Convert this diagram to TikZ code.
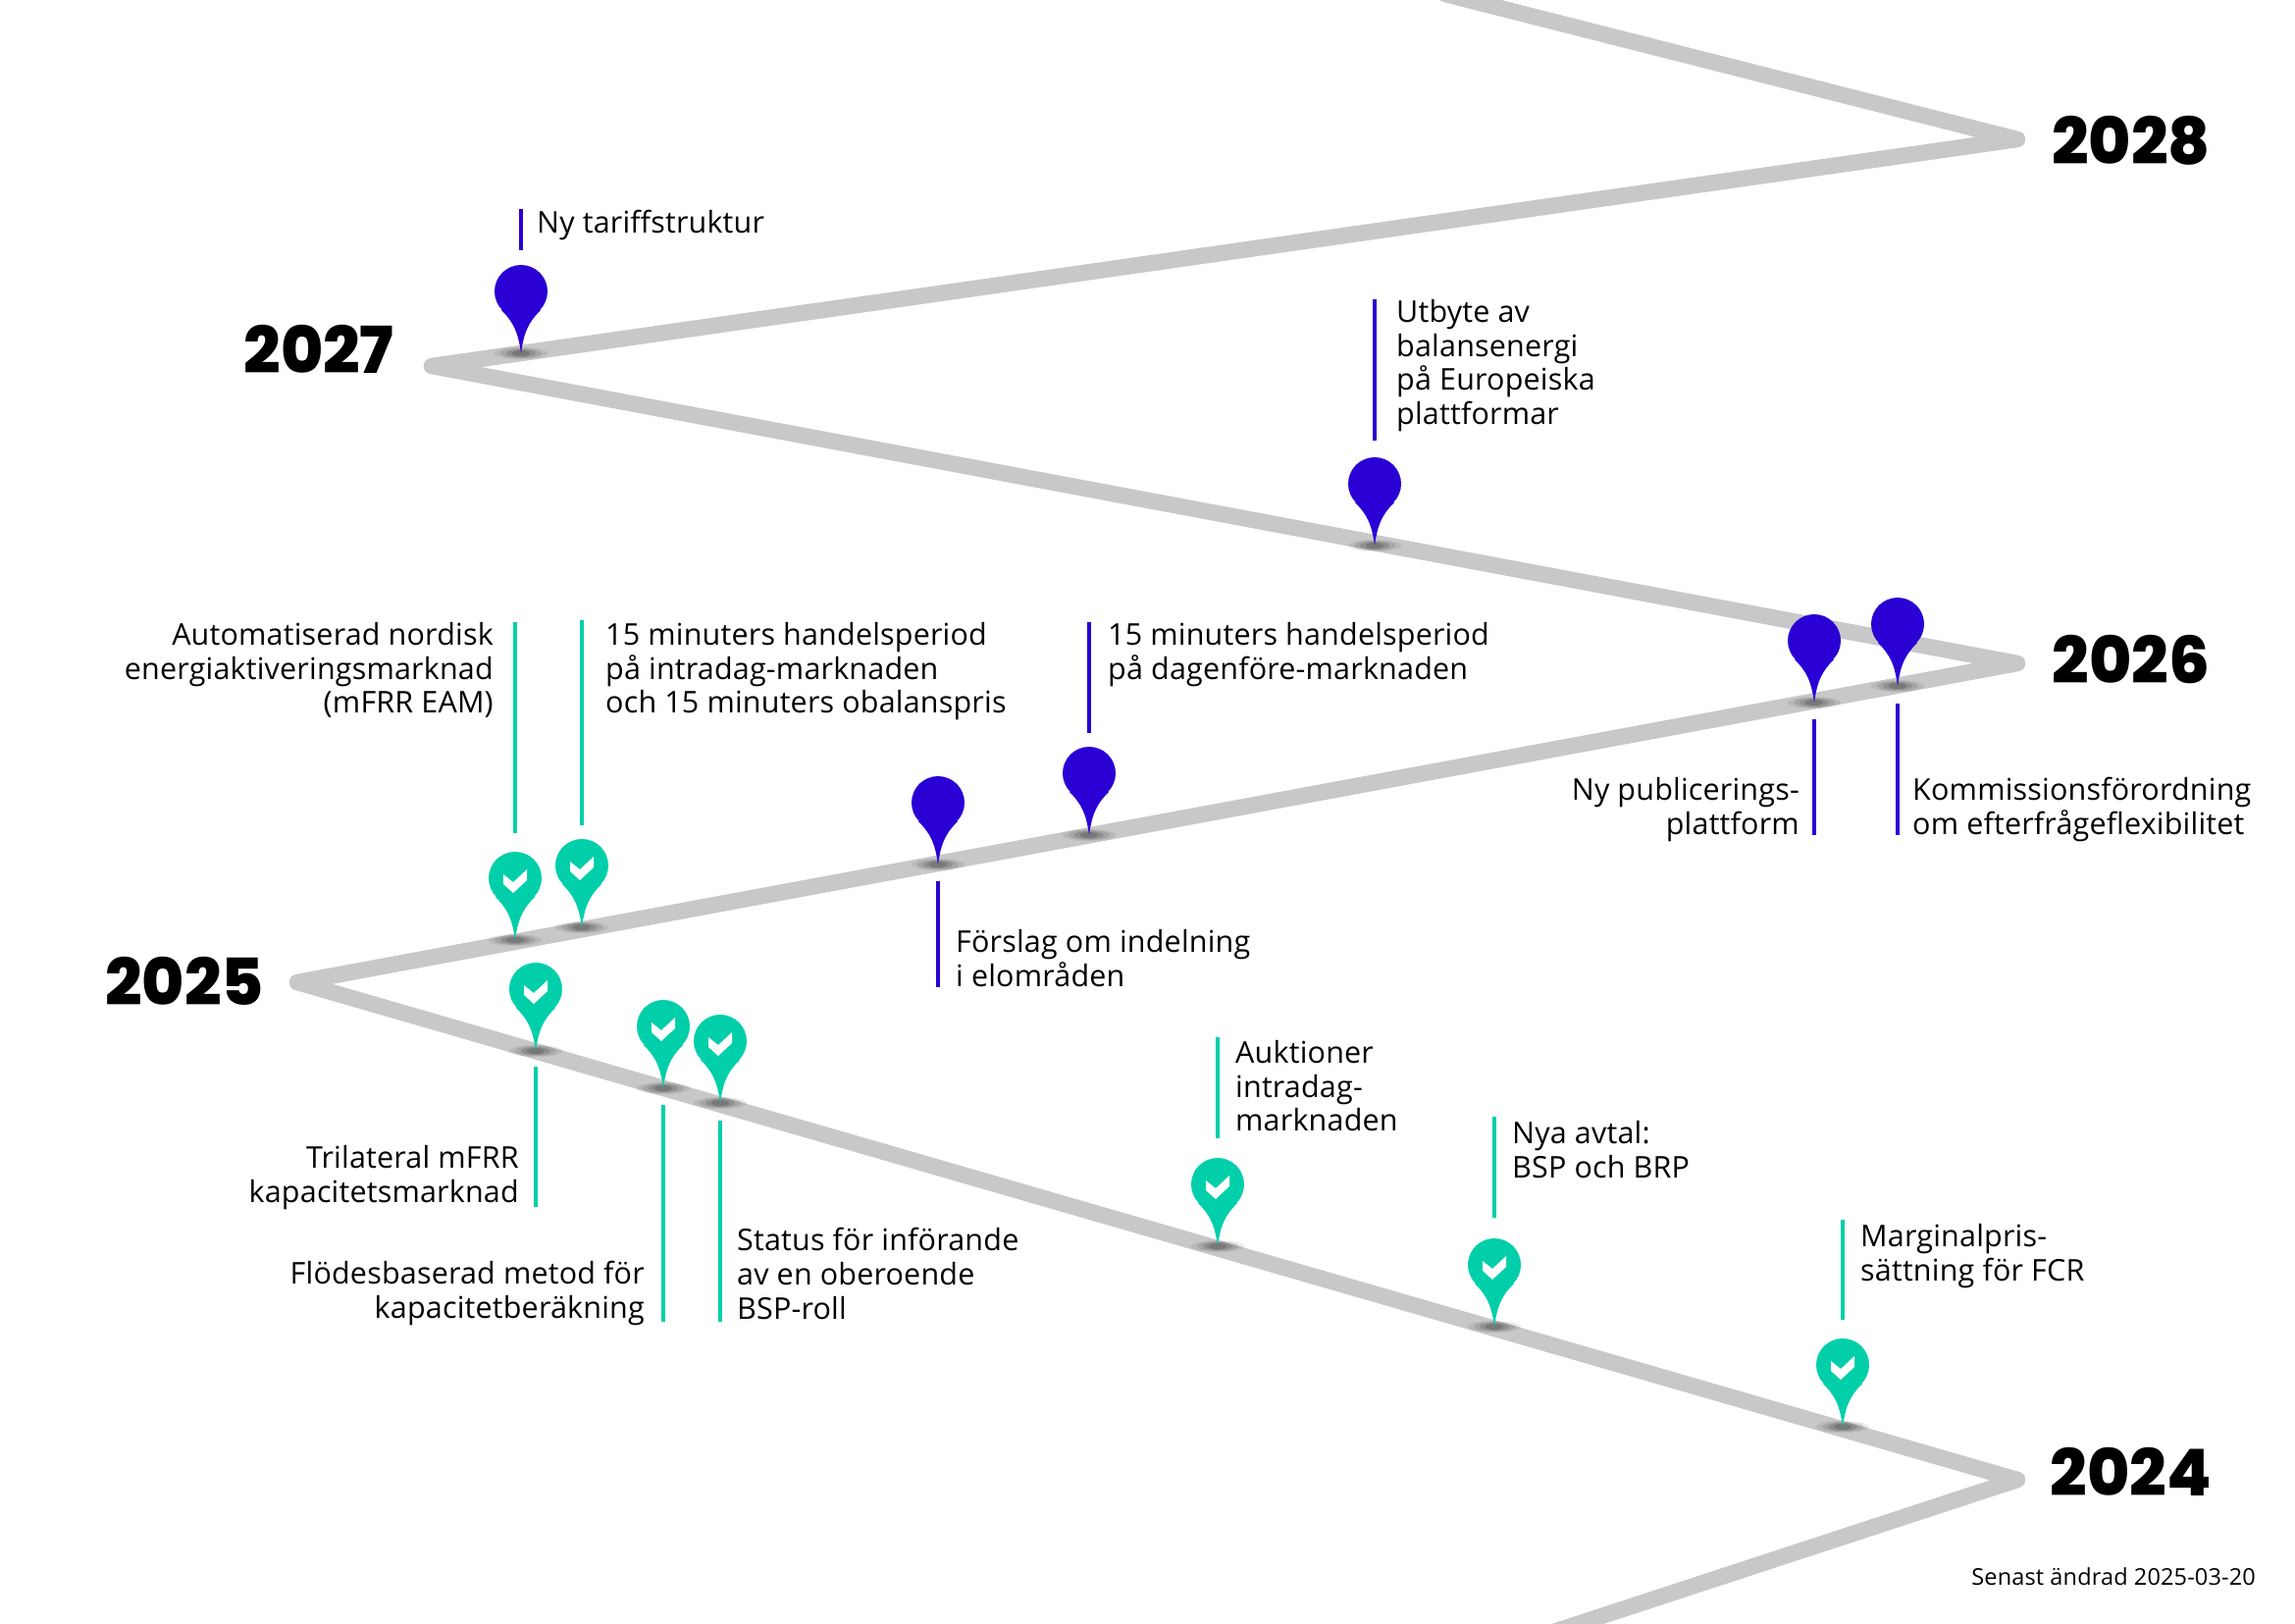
\documentclass[tikz,border=0pt]{standalone}
\usepackage{fontspec}
\setmainfont{Open Sans}[LetterSpace=0.6]
\newfontfamily\yearfont{Poppins ExtraBold}
\definecolor{track}{HTML}{C8C8C8}
\definecolor{bluepin}{HTML}{2A00D5}
\definecolor{tealpin}{HTML}{00CFAA}
\tikzset{x=1pt,y=-1pt,
 trackline/.style={draw=track,line width=16.5pt,line join=round,line cap=round},
 leader/.style={line width=3.7pt},
 yearlabel/.style={font=\yearfont\fontsize{66}{66}\selectfont,inner sep=0pt,text=black},
 lbl/.style={font=\fontsize{30.5}{34.8}\selectfont,inner sep=0pt,align=left,anchor=north west,yshift=-6pt},
 lblr/.style={font=\fontsize{30.5}{34.8}\selectfont,inner sep=0pt,align=right,anchor=north east,yshift=-6pt},
 stamp/.style={font=\fontsize{23.5}{24}\selectfont,inner sep=0pt,anchor=east}}
% pin: name, tip x, tip y, colour
\newcommand{\pinmark}[4]{%
 \fill[black,opacity=.08] (#2,#3) ellipse (27 and 6);
 \fill[black,opacity=.10] (#2,#3) ellipse (21 and 5);
 \fill[black,opacity=.13] (#2,#3) ellipse (15 and 4);
 \fill[black,opacity=.16] (#2,#3) ellipse (9 and 3);
 \coordinate (#1) at (#2,#3);
 \fill[#4] (#2,#3-63) circle[radius=27];
 \fill[#4] (#2,#3) .. controls (#2-3,#3-22) and (#2-8,#3-32) .. (#2-20,#3-44)
   -- (#2+20,#3-44) .. controls (#2+8,#3-32) and (#2+3,#3-22) .. (#2,#3) -- cycle;}
\newcommand{\tickmark}[2]{%
 \fill[white] (#1-12,#2-67) -- (#1-2,#2-59) -- (#1+12,#2-72) -- (#1+12,#2-61) -- (#1-2,#2-48) -- (#1-12,#2-57) -- cycle;}
\begin{document}
\begin{tikzpicture}
\useasboundingbox (0,0) rectangle (2339,1654);
\fill[white] (0,0) rectangle (2339,1654);
\clip (0,0) rectangle (2339,1654);
\coordinate (z0) at (1473,-6);
\coordinate (z1) at (2056,142);
\coordinate (z2) at (440,373);
\coordinate (z3) at (2056,676);
\coordinate (z4) at (303,1001);
\coordinate (z5) at (2056,1508);
\coordinate (z6) at (1562,1670);
\path[trackline] (z0) -- (z1) -- (z2) -- (z3) -- (z4) -- (z5) -- (z6);
% years
\node[yearlabel] (y28) at (2172,143) {2028};
\node[yearlabel] (y27) at (325,356) {2027};
\node[yearlabel] (y26) at (2172,672) {2026};
\node[yearlabel] (y25) at (188,1000) {2025};
\node[yearlabel] (y24) at (2172,1500) {2024};
% blue pins
\pinmark{b1}{531}{360}{bluepin}
\pinmark{b2}{1401}{556}{bluepin}
\pinmark{b3}{1849}{716}{bluepin}
\pinmark{b4}{1934}{699}{bluepin}
\pinmark{b5}{956}{881}{bluepin}
\pinmark{b6}{1110}{851}{bluepin}
% teal pins
\pinmark{t1}{525}{958}{tealpin}\tickmark{525}{958}
\pinmark{t2}{593}{945}{tealpin}\tickmark{593}{945}
\pinmark{t3}{546}{1071}{tealpin}\tickmark{546}{1071}
\pinmark{t4}{676}{1109}{tealpin}\tickmark{676}{1109}
\pinmark{t5}{734}{1124}{tealpin}\tickmark{734}{1124}
\pinmark{t6}{1241}{1270}{tealpin}\tickmark{1241}{1270}
\pinmark{t7}{1523}{1352}{tealpin}\tickmark{1523}{1352}
\pinmark{t8}{1878}{1454}{tealpin}\tickmark{1878}{1454}
% leaders
\draw[leader,bluepin] (531,213) -- (531,255);
\draw[leader,bluepin] (1401,305) -- (1401,449);
\draw[leader,bluepin] (1110,634) -- (1110,747);
\draw[leader,bluepin] (1849,733) -- (1849,851);
\draw[leader,bluepin] (1934,717) -- (1934,851);
\draw[leader,bluepin] (956,898) -- (956,1006);
\draw[leader,tealpin] (525,634) -- (525,849);
\draw[leader,tealpin] (593,632) -- (593,841);
\draw[leader,tealpin] (546,1087) -- (546,1230);
\draw[leader,tealpin] (676,1126) -- (676,1347);
\draw[leader,tealpin] (734,1142) -- (734,1347);
\draw[leader,tealpin] (1241,1057) -- (1241,1160);
\draw[leader,tealpin] (1523,1138) -- (1523,1241);
\draw[leader,tealpin] (1878,1243) -- (1878,1345);
% labels
\node[lbl] (l1) at (547,208) {Ny tariffstruktur};
\node[lbl] (l2) at (1423,299) {Utbyte av\\balansenergi\\på Europeiska\\plattformar};
\node[lblr] (l3) at (503,628) {Automatiserad nordisk\\energiaktiveringsmarknad\\(mFRR EAM)};
\node[lbl] (l4) at (617,628) {15 minuters handelsperiod\\på intradag-marknaden\\och 15 minuters obalanspris};
\node[lbl] (l5) at (1129,628) {15 minuters handelsperiod\\på dagenföre-marknaden};
\node[lblr] (l6) at (1834,786) {Ny publicerings-\\plattform};
\node[lbl] (l7) at (1949,786) {Kommissionsförordning\\om efterfrågeflexibilitet};
\node[lbl] (l8) at (974,941) {Förslag om indelning\\i elområden};
\node[lblr] (l9) at (529,1161) {Trilateral mFRR\\kapacitetsmarknad};
\node[lblr] (l10) at (657,1279) {Flödesbaserad metod för\\kapacitetberäkning};
\node[lbl] (l11) at (751,1245) {Status för införande\\av en oberoende\\BSP-roll};
\node[lbl] (l12) at (1259,1054) {Auktioner\\intradag-\\marknaden};
\node[lbl] (l13) at (1541,1136) {Nya avtal:\\BSP och BRP};
\node[lbl] (l14) at (1896,1241) {Marginalpris-\\sättning för FCR};
\node[stamp] (s) at (2299,1607) {Senast ändrad 2025-03-20};
\end{tikzpicture}
\end{document}
